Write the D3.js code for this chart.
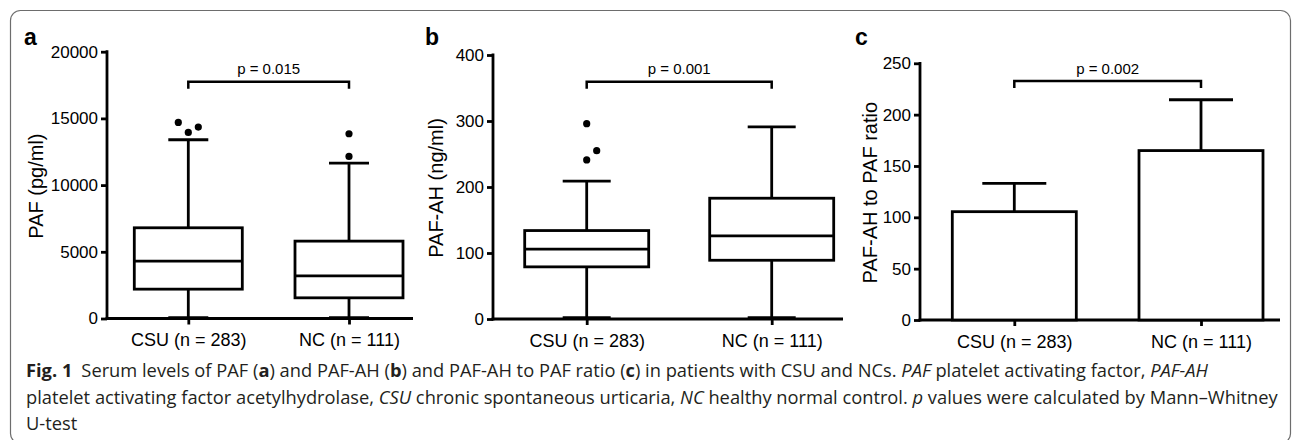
<!DOCTYPE html>
<html lang="en">
<head>
<meta charset="utf-8">
<title>Serum PAF and PAF-AH</title>
<script src="https://d3js.org/d3.v7.min.js"></script>
<style>
  body { margin: 0; background: #fff; }
  svg { display: block; }
  .axis text { font-family: "Liberation Sans", Arial, sans-serif; fill: #000; }
  .caption { font-family: "Open Sans", "Noto Sans", sans-serif; fill: #231f20; }
</style>
</head>
<body>
<script>
// groups on the x axis
var categories = ["CSU (n = 283)", "NC (n = 111)"];

// panel a: PAF (pg/ml), box and whiskers
var pafMin = [60, 60];
var pafQ1 = [2200, 1550];
var pafMedian = [4300, 3200];
var pafQ3 = [6800, 5800];
var pafMax = [13400, 11650];
var pafOutliers = [[13950, 14350, 14700], [12150, 13850]];
var pafTicks = [0, 5000, 10000, 15000, 20000];

// panel b: PAF-AH (ng/ml), box and whiskers
var ahMin = [2, 2];
var ahQ1 = [79, 89];
var ahMedian = [106, 126];
var ahQ3 = [134, 183];
var ahMax = [209, 291];
var ahOutliers = [[241, 255, 296], []];
var ahTicks = [0, 100, 200, 300, 400];

// panel c: PAF-AH to PAF ratio, bar + upper error bar
var ratioMean = [105.5, 165];
var ratioUpper = [133, 214.5];
var ratioTicks = [0, 50, 100, 150, 200, 250];

var pValues = ["p = 0.015", "p = 0.001", "p = 0.002"];
var yTitles = ["PAF (pg/ml)", "PAF-AH (ng/ml)", "PAF-AH to PAF ratio"];
var panelLetters = ["a", "b", "c"];

var w = 1292, h = 440;
var lw = 2.8; // line width of all marks

var svg = d3.select("body").append("svg")
    .attr("width", w)
    .attr("height", h);

// rounded frame around the figure (bottom edge falls just off the picture)
svg.append("rect")
    .attr("x", 10.5).attr("y", 10.5)
    .attr("width", 1280).attr("height", 433)
    .attr("rx", 10)
    .attr("fill", "none")
    .attr("stroke", "#6d6d6d")
    .attr("stroke-width", 1.2);

// layout of each panel (pixels)
var panels = [
  {x0: 107, x1: 413, c1: 188.3, c2: 349, top: 51.7, bottom: 318.5, titleX: 42.7, letterX: 24,
   boxW: 108, capW: 40, bracketY: 81.7, max: 20000, ticks: pafTicks},
  {x0: 493, x1: 843, c1: 586.7, c2: 771.7, top: 55, bottom: 319, titleX: 443.3, letterX: 425,
   boxW: 124, capW: 48, bracketY: 81.7, max: 400, ticks: ahTicks},
  {x0: 920, x1: 1280, c1: 1014.3, c2: 1201, top: 63.3, bottom: 320, titleX: 876.7, letterX: 855,
   boxW: 124, capW: 64, bracketY: 81, max: 250, ticks: ratioTicks}
];

var boxData = [
  {min: pafMin, q1: pafQ1, med: pafMedian, q3: pafQ3, max: pafMax, out: pafOutliers},
  {min: ahMin, q1: ahQ1, med: ahMedian, q3: ahQ3, max: ahMax, out: ahOutliers}
];

function line(g, x1, y1, x2, y2) {
  g.append("line")
    .attr("x1", x1).attr("y1", y1)
    .attr("x2", x2).attr("y2", y2)
    .attr("stroke", "#000")
    .attr("stroke-width", lw);
}

// spread outliers sideways when they would overlap
function swarm(values, y, step, r) {
  var placed = [];
  values.slice().sort(d3.ascending).forEach(function(v) {
    var py = y(v);
    var tries = [0, step, -step, 2 * step, -2 * step];
    for (var k = 0; k < tries.length; k++) {
      var ok = placed.every(function(p) {
        return Math.hypot(p.dx - tries[k], p.y - py) >= r;
      });
      if (ok) { placed.push({dx: tries[k], y: py}); break; }
    }
  });
  return placed;
}

panels.forEach(function(p, pi) {
  var g = svg.append("g");

  var x = d3.scalePoint().domain(categories).range([p.c1, p.c2]);
  var y = d3.scaleLinear().domain([0, p.max]).range([p.bottom, p.top]);

  // y axis
  var ya = g.append("g")
      .attr("class", "axis")
      .attr("transform", "translate(" + p.x0 + ",0)")
      .call(d3.axisLeft(y).tickValues(p.ticks).tickSize(6).tickPadding(3).tickSizeOuter(0)
             .tickFormat(d3.format("d")));
  ya.selectAll("text").attr("font-size", 17);
  ya.select(".domain").remove();
  ya.selectAll(".tick line").attr("stroke-width", lw);
  line(g, p.x0, p.bottom + lw / 2, p.x0, p.top - lw / 2);

  // x axis
  var xa = g.append("g")
      .attr("class", "axis")
      .attr("transform", "translate(0," + p.bottom + ")")
      .call(d3.axisBottom(x).tickSize(6).tickPadding(9).tickSizeOuter(0));
  xa.selectAll("text").attr("font-size", 18);
  xa.select(".domain").remove();
  xa.selectAll(".tick line").attr("stroke-width", lw);
  line(g, p.x0 - lw / 2, p.bottom, p.x1, p.bottom);

  // axis title
  g.append("text")
      .attr("transform", "translate(" + p.titleX + "," + ((p.top + p.bottom) / 2 + 1) + ") rotate(-90)")
      .attr("text-anchor", "middle")
      .attr("font-family", "Liberation Sans, Arial, sans-serif")
      .attr("font-size", 20)
      .text(yTitles[pi]);

  // panel letter
  g.append("text")
      .attr("x", p.letterX).attr("y", 45)
      .attr("font-family", "Liberation Sans, Arial, sans-serif")
      .attr("font-weight", "bold")
      .attr("font-size", 23)
      .text(panelLetters[pi]);

  if (pi < 2) {
    var d = boxData[pi];
    categories.forEach(function(c, i) {
      var cx = x(c);
      var hw = p.boxW / 2, hc = p.capW / 2;
      line(g, cx, y(d.min[i]), cx, y(d.q1[i]));
      line(g, cx, y(d.q3[i]), cx, y(d.max[i]));
      line(g, cx - hc, y(d.min[i]), cx + hc, y(d.min[i]));
      line(g, cx - hc, y(d.max[i]), cx + hc, y(d.max[i]));
      g.append("rect")
          .attr("x", cx - hw).attr("y", y(d.q3[i]))
          .attr("width", p.boxW).attr("height", y(d.q1[i]) - y(d.q3[i]))
          .attr("fill", "#fff")
          .attr("stroke", "#000")
          .attr("stroke-width", lw);
      line(g, cx - hw, y(d.med[i]), cx + hw, y(d.med[i]));
      g.selectAll(null)
          .data(swarm(d.out[i], y, 10, 11))
          .enter().append("circle")
          .attr("cx", function(o) { return cx + o.dx; })
          .attr("cy", function(o) { return o.y; })
          .attr("r", 3.6)
          .attr("fill", "#000");
    });
  } else {
    categories.forEach(function(c, i) {
      var cx = x(c);
      var hc = p.capW / 2;
      line(g, cx, y(ratioMean[i]), cx, y(ratioUpper[i]));
      line(g, cx - hc, y(ratioUpper[i]), cx + hc, y(ratioUpper[i]));
      g.append("rect")
          .attr("x", cx - p.boxW / 2).attr("y", y(ratioMean[i]))
          .attr("width", p.boxW).attr("height", y(0) - y(ratioMean[i]))
          .attr("fill", "#fff")
          .attr("stroke", "#000")
          .attr("stroke-width", lw);
    });
  }

  // significance bracket
  var bx1 = x(categories[0]), bx2 = x(categories[1]);
  g.append("path")
      .attr("d", "M" + bx1 + "," + (p.bracketY + 7) + "V" + p.bracketY + "H" + bx2 + "V" + (p.bracketY + 7))
      .attr("fill", "none")
      .attr("stroke", "#000")
      .attr("stroke-width", 2.5);
  g.append("text")
      .attr("x", (bx1 + bx2) / 2).attr("y", p.bracketY - 7.5)
      .attr("text-anchor", "middle")
      .attr("font-family", "Liberation Sans, Arial, sans-serif")
      .attr("font-size", 15)
      .text(pValues[pi]);
});

// caption
var captionLines = [
  [["Fig. 1", "b"], ["Serum levels of PAF (", "", 9], ["a", "b"], [") and PAF-AH ("], ["b", "b"],
   [") and PAF-AH to PAF ratio ("], ["c", "b"], [") in patients with CSU and NCs. "], ["PAF", "i"],
   [" platelet activating factor, "], ["PAF-AH", "i"]],
  [["platelet activating factor acetylhydrolase, "], ["CSU", "i"], [" chronic spontaneous urticaria, "],
   ["NC", "i"], [" healthy normal control. "], ["p", "i"], [" values were calculated by Mann\u2013Whitney"]],
  [["U-test"]]
];
var captionY = [377, 403.5, 430];

captionLines.forEach(function(segs, li) {
  var t = svg.append("text")
      .attr("class", "caption")
      .attr("x", 26).attr("y", captionY[li])
      .attr("font-size", 18.3)
      .style("white-space", "pre");
  segs.forEach(function(s) {
    var ts = t.append("tspan").text(s[0]);
    if (s[1] === "b") ts.attr("font-weight", "bold");
    if (s[1] === "i") ts.attr("font-style", "italic");
    if (s[2]) ts.attr("dx", s[2]);
  });
});
</script>
</body>
</html>
